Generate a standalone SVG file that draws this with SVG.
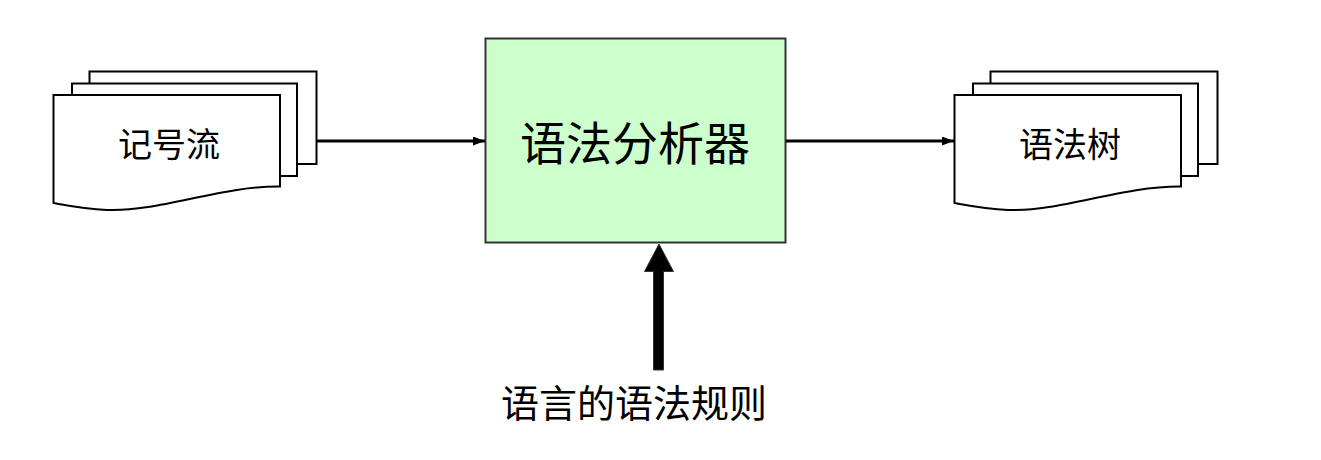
<svg xmlns="http://www.w3.org/2000/svg" width="1321" height="460" viewBox="0 0 1321 460">
<style>
.doc{fill:#ffffff;stroke:#000000;stroke-width:2}
.lbl{font-family:"Liberation Sans","Noto Sans CJK SC",sans-serif;fill:#000000;text-anchor:middle;dominant-baseline:central}
.conn{stroke:#000000;stroke-width:3;fill:none}
</style>
<defs>
<marker id="ah" viewBox="0 0 12 9" refX="12" refY="4.5" markerWidth="12" markerHeight="9" markerUnits="userSpaceOnUse" orient="auto">
<path d="M0,0 L12,4.5 L0,9 Z" fill="#000000"/>
</marker>
</defs>
<rect width="1321" height="460" fill="#ffffff"/>
<g id="tokens">
<rect class="doc" x="89.5" y="71.5" width="227" height="92.5"/>
<rect class="doc" x="72" y="83.5" width="225" height="92.5"/>
<path class="doc" d="M53.5,95 L280,95 L280,186.5 C220,186 160,212 107,210 C85,209 70,206 53.5,203 Z"/>
<text class="lbl" x="169" y="145" font-size="34">记号流</text>
</g>
<g id="parser">
<rect x="485.5" y="38.5" width="300" height="204" fill="#ccffcc" stroke="#333333" stroke-width="2"/>
<text class="lbl" x="635" y="144" font-size="46">语法分析器</text>
</g>
<g id="tree">
<rect class="doc" x="990.5" y="71.5" width="227" height="92.5"/>
<rect class="doc" x="973" y="83.5" width="225" height="92.5"/>
<path class="doc" d="M954.5,95 L1181,95 L1181,186.5 C1121,186 1061,212 1008,210 C986,209 971,206 954.5,203 Z"/>
<text class="lbl" x="1070" y="145" font-size="34">语法树</text>
</g>
<g id="rules">
<text class="lbl" x="634" y="404" font-size="38">语言的语法规则</text>
</g>
<g id="connectors">
<line class="conn" x1="317" y1="141" x2="485" y2="141" marker-end="url(#ah)"/>
<line class="conn" x1="786" y1="141" x2="954" y2="141" marker-end="url(#ah)"/>
<path d="M653.5,370 L653.5,271.5 L644.5,271.5 L659,244 L673.5,271.5 L663.5,271.5 L663.5,370 Z" fill="#000000" stroke="#333333" stroke-width="1"/>
</g>
</svg>
